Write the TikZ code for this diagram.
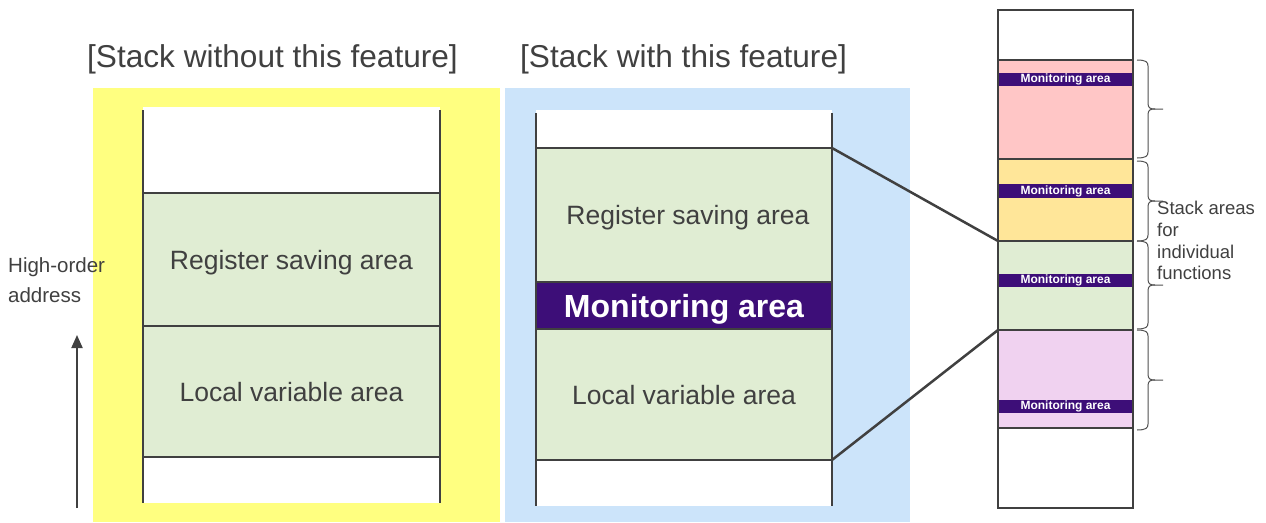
\documentclass[tikz,border=0pt]{standalone}
\usepackage{fontspec}
\setmainfont{Liberation Sans}
\usetikzlibrary{arrows.meta}

\definecolor{ink}{HTML}{404040}
\definecolor{panelyellow}{HTML}{FFFF80}
\definecolor{panelblue}{HTML}{CCE4FA}
\definecolor{areagreen}{HTML}{E0EDD3}
\definecolor{monpurple}{HTML}{3D0E78}
\definecolor{areapink}{HTML}{FFC6C6}
\definecolor{areagold}{HTML}{FFE699}
\definecolor{arealilac}{HTML}{F0D2F0}
\definecolor{bracegray}{HTML}{505050}

% right-pointing curly brace beside the stack column: top, middle, bottom
\newcommand{\sidebrace}[3]{%
  \draw[bracestroke]
    (1137,#1) .. controls (1146,#1) and (1148,#1+2) .. (1148,#1+6)
    -- (1148,#2-6) .. controls (1148,#2-1) and (1150,#2) .. (1155,#2)
    -- (1163,#2);
  \draw[bracestroke]
    (1137,#3) .. controls (1146,#3) and (1148,#3-2) .. (1148,#3-6)
    -- (1148,#2+6) .. controls (1148,#2+1) and (1150,#2) .. (1155,#2);
}

\begin{document}
\begin{tikzpicture}[x=1pt,y=-1pt,
  area/.style={draw=ink, line width=2pt, inner sep=0pt, outer sep=0pt,
    anchor=north west, text=ink, text depth=0pt,
    font=\fontsize{26.5}{30}\selectfont},
  monbar/.style={fill=monpurple, inner sep=0pt, outer sep=0pt, anchor=north west,
    text=white, font=\bfseries\fontsize{32}{36}\selectfont},
  minibar/.style={fill=monpurple, inner sep=0pt, outer sep=0pt, anchor=north west,
    minimum width=135pt, text=white, font=\bfseries\fontsize{12}{13}\selectfont},
  slot/.style={draw=ink, line width=2.5pt, inner sep=0pt, outer sep=0pt,
    anchor=north west, minimum width=135pt},
  title/.style={anchor=base west, inner sep=0pt, text=ink,
    font=\fontsize{31.6}{35}\selectfont},
  note/.style={anchor=north west, inner sep=0pt, text=ink, align=left},
  edge/.style={draw=ink, line width=2pt},
  link/.style={draw=ink, line width=2.5pt},
  bracestroke/.style={draw=bracegray, line width=1pt},
]
\useasboundingbox (0,0) rectangle (1266,522);

% coloured panels
\fill[panelyellow] (93,88) rectangle (500,522);
\fill[panelblue] (505,88) rectangle (910,522);

% titles
\node[title] (tleft) at (87,67) {[Stack without this feature]};
\node[title] (tmid) at (520,67) {[Stack with this feature]};

% ---- stack without the feature ----
\fill[white] (143,107) rectangle (440,503);
\node[area, fill=areagreen, minimum width=297pt, minimum height=133pt]
  (lreg) at (143,193) {Register saving area};
\node[area, fill=areagreen, minimum width=297pt, minimum height=131pt]
  (lloc) at (143,326) {Local variable area};
\draw[edge] (lloc.south west) -- (lloc.south east);
\draw[edge] (143,110) -- (143,503);
\draw[edge] (440,110) -- (440,503);

% ---- stack with the feature ----
\fill[white] (536,110) rectangle (832,506);
\node[area, fill=areagreen, minimum width=296pt, minimum height=134pt]
  (mreg) at (536,148) {\hspace*{8pt}Register saving area};
\node[area, monbar, draw=ink, line width=2pt, minimum width=296pt, minimum height=47pt]
  (mmon) at (536,282) {Monitoring area};
\node[area, fill=areagreen, minimum width=296pt, minimum height=131pt]
  (mloc) at (536,329) {Local variable area};
\draw[edge] (536,113) -- (536,506);
\draw[edge] (832,113) -- (832,506);

% ---- stack areas of the individual functions ----
\node[slot, fill=white, minimum height=50pt] (rtop) at (998,10) {};
\node[slot, fill=areapink, minimum height=99pt] (rpink) at (998,60) {};
\node[slot, fill=areagold, minimum height=82pt] (rgold) at (998,159) {};
\node[slot, fill=areagreen, minimum height=89pt] (rgreen) at (998,241) {};
\node[slot, fill=arealilac, minimum height=98pt] (rlilac) at (998,330) {};
\node[slot, fill=white, minimum height=80pt] (rbot) at (998,428) {};

\node[minibar, minimum height=13pt] (mon1) at (998,73) {Monitoring area};
\node[minibar, minimum height=14pt] (mon2) at (998,184) {Monitoring area};
\node[minibar, minimum height=13pt] (mon3) at (998,274) {Monitoring area};
\node[minibar, minimum height=13pt] (mon4) at (998,400) {Monitoring area};
\draw[ink, line width=2.5pt] (rtop.north west) rectangle (rbot.south east);

% expansion lines from one frame to its place in the column
\draw[link] (mreg.north east) -- (rgreen.north west);
\draw[link] (mloc.south east) -- (rlilac.north west);

% braces and their label
\sidebrace{60}{109}{158}
\sidebrace{161}{201}{241}
\sidebrace{241}{285}{329}
\sidebrace{330}{380}{430}
\node[note, font=\fontsize{18.5}{21.7}\selectfont] (lbl) at (1157,201)
  {Stack areas\\for\\individual\\functions};

% address direction
\node[note, font=\fontsize{20.5}{30}\selectfont] (addr) at (8,257)
  {High-order\\address};
\coordinate (arrbase) at (77,508);
\coordinate (arrtip) at (77,335);
\draw[ink, line width=2pt, -{Triangle[length=13pt,width=11pt]}] (arrbase) -- (arrtip);
\end{tikzpicture}
\end{document}
